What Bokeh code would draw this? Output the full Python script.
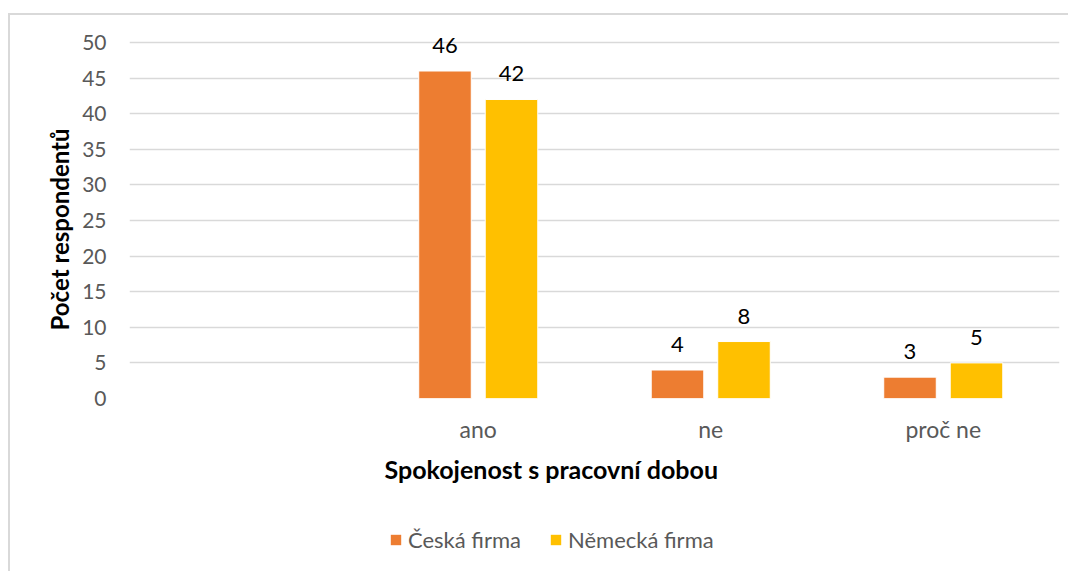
from bokeh.plotting import figure
from bokeh.layouts import column
from bokeh.models import (ColumnDataSource, FactorRange, Range1d, FixedTicker, LabelSet,
                          Legend, LegendItem, Title)
from bokeh.core.properties import value
from bokeh.transform import dodge
from bokeh.embed import file_html
from bokeh.resources import INLINE

# ---- data ----
categories = [" ", "ano", "ne", "proč ne"]
bar_categories = ["ano", "ne", "proč ne"]
ceska_firma = [46, 4, 3]
nemecka_firma = [42, 8, 5]
y_ticks = [0, 5, 10, 15, 20, 25, 30, 35, 40, 45, 50]
series_names = ["Česká firma", "Německá firma"]
x_title = "Spokojenost s pracovní dobou"
y_title = "Počet respondentů"

FONT = "Lato"
ORANGE = "#ED7D31"
YELLOW = "#FFC000"
GRID = "#d9d9d9"
TXT = "#595959"

source = ColumnDataSource(dict(
    cat=bar_categories,
    ceska=ceska_firma,
    nemecka=nemecka_firma,
    ceska_txt=[str(v) for v in ceska_firma],
    nemecka_txt=[str(v) for v in nemecka_firma],
))

p = figure(width=1058, height=485, x_range=FactorRange(*categories),
           y_range=Range1d(0, 51.55), output_backend="svg", toolbar_location=None,
           min_border_left=119, min_border_right=9, min_border_top=16, min_border_bottom=102)
p.outline_line_color = None
p.background_fill_color = "white"
p.border_fill_color = "white"

OFF = 0.143
W = 0.226
r1 = p.vbar(x=dodge("cat", -OFF, range=p.x_range), top="ceska", width=W, source=source,
            fill_color=ORANGE, line_color="white", line_width=1)
r2 = p.vbar(x=dodge("cat", OFF, range=p.x_range), top="nemecka", width=W, source=source,
            fill_color=YELLOW, line_color="white", line_width=1)

for col, off in (("ceska", -OFF), ("nemecka", OFF)):
    p.add_layout(LabelSet(x=dodge("cat", off, range=p.x_range), y=col, text=col + "_txt",
                          source=source, text_align="center", text_baseline="alphabetic",
                          y_offset=18, text_font=value(FONT), text_font_size="22px",
                          text_color="black"))

# axes
p.yaxis.ticker = FixedTicker(ticks=y_ticks)
p.yaxis.axis_line_color = None
p.yaxis.major_tick_line_color = None
p.yaxis.minor_tick_line_color = None
p.yaxis.major_tick_out = 0
p.yaxis.major_label_standoff = 23
p.yaxis.major_label_text_font = FONT
p.yaxis.major_label_text_font_size = "21px"
p.yaxis.major_label_text_color = TXT

p.xaxis.axis_line_color = None
p.xaxis.major_tick_line_color = None
p.xaxis.major_tick_out = 0
p.xaxis.major_label_standoff = 16
p.xaxis.major_label_text_font = FONT
p.xaxis.major_label_text_font_size = "23px"
p.xaxis.major_label_text_color = TXT

p.xgrid.grid_line_color = None
p.ygrid.grid_line_color = GRID
p.ygrid.grid_line_width = 1.5

# axis titles as side-panel titles
p.add_layout(Title(text=x_title, align="left", offset=255, standoff=12,
                   text_font=FONT, text_font_style="bold", text_font_size="25px",
                   text_color="black"), "below")
p.add_layout(Title(text=y_title, align="left", offset=68, standoff=12,
                   text_font=FONT, text_font_style="bold", text_font_size="24px",
                   text_color="black"), "left")

# legend in a separate strip below the chart (frame aligned with the main plot)
lf = figure(width=1058, height=71, x_range=Range1d(0, 1), y_range=Range1d(0, 1),
            x_axis_type=None, y_axis_type=None,
            output_backend="svg", toolbar_location=None, min_border=0)
lf.grid.grid_line_color = None
lf.outline_line_color = None
lf.background_fill_color = "white"
lf.border_fill_color = "white"
l1 = lf.vbar(x=[0.5], top=[0], width=0, fill_color=ORANGE, line_color=None)
l2 = lf.vbar(x=[0.5], top=[0], width=0, fill_color=YELLOW, line_color=None)
legend = Legend(items=[LegendItem(label=series_names[0], renderers=[l1]),
                       LegendItem(label=series_names[1], renderers=[l2])],
                location=(260, 18), orientation="horizontal",
                glyph_width=13, glyph_height=13, label_standoff=6, spacing=28,
                padding=0, margin=0, border_line_color=None, background_fill_alpha=0,
                label_text_font=FONT, label_text_font_size="22px", label_text_color=TXT)
lf.add_layout(legend)

lay = column(p, lf, spacing=0)
lay.styles = {"border-top": "2px solid #d9d9d9", "border-left": "2px solid #d9d9d9",
              "margin-top": "13px", "margin-left": "8px"}

open("out.html", "w").write(file_html(lay, INLINE))
